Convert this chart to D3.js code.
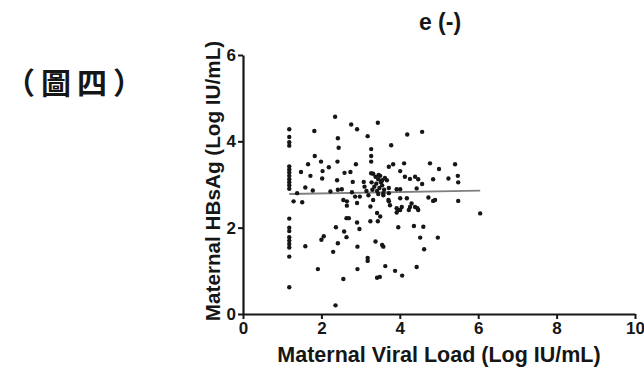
<!DOCTYPE html>
<html><head><meta charset="utf-8">
<script src="https://cdn.jsdelivr.net/npm/d3@7"></script>
<style>body{margin:0;background:#fff}svg{display:block}</style>
</head><body>
<script>
const chartTitle = "e (-)";
const figureLabel = "（圖四）";
const xTitle = "Maternal Viral Load (Log IU/mL)";
const yTitle = "Maternal HBsAg (Log IU/mL)";
const xTicks = [0, 2, 4, 6, 8, 10];
const yTicks = [0, 2, 4, 6];
const xValues = [
1.18,1.18,1.18,1.18,1.18,1.18,1.18,1.18,1.18,1.18,1.18,1.18,
1.18,1.18,1.18,1.18,1.18,1.18,1.18,1.18,1.18,
2.35,1.82,2.76,2.91,3.44,3.18,2.42,2.44,3.27,3.27,3.27,1.83,1.99,1.66,2.19,2.41,2.88,2.03,1.48,1.72,2.59,2.74,2.02,2.40,2.80,3.08,3.27,3.46,3.55,
4.19,4.57,3.78,3.72,3.83,4.11,4.77,5.00,5.41,4.01,4.13,4.26,4.39,4.47,4.85,5.24,5.48,5.49,3.67,
3.92,4.01,4.43,4.73,4.90,5.49,2.52,2.56,2.86,2.98,3.20,3.32,3.58,3.71,4.01,4.18,4.30,4.39,4.05,
1.38,1.59,1.78,2.23,2.42,1.29,1.51,2.65,2.65,2.78,2.91,3.25,3.42,3.50,2.64,2.70,2.91,3.25,3.44,2.37,2.58,2.97,2.64,2.06,2.00,2.42,3.38,1.59,3.55,1.91,2.30,2.56,2.36,2.92,2.92,
3.18,3.18,3.63,3.42,3.49,6.05,3.58,3.88,4.06,4.43,3.96,4.36,4.60,4.52,4.97,4.62,3.92,4.01,4.26,4.45,3.75,4.85,3.72,3.72,3.96,3.92,4.23,4.47,4.57,3.72,
3.32,3.38,3.45,3.52,3.40,3.35,3.48,3.55,3.42,3.60,3.30,3.50,3.62,3.28,3.45,3.58,3.10,3.15
];
const yValues = [
4.28,4.10,3.98,3.90,3.42,3.35,3.28,3.20,3.12,3.05,2.98,2.90,
2.21,2.00,1.92,1.78,1.70,1.62,1.54,1.33,0.62,
4.57,4.24,4.39,4.28,4.43,4.12,4.07,3.85,3.82,3.66,3.53,3.66,3.53,3.47,3.40,3.53,3.47,3.31,3.29,3.20,3.27,3.29,3.14,3.10,3.06,3.06,3.26,3.22,3.10,
4.16,4.22,3.91,3.41,3.47,3.49,3.49,3.36,3.47,3.31,3.18,3.13,3.18,3.12,3.12,3.14,3.20,3.05,3.10,
2.89,2.89,2.91,2.70,2.64,2.62,2.89,2.64,2.72,2.72,2.75,2.64,2.75,2.64,2.68,2.68,2.56,2.48,2.48,
2.80,2.93,2.86,2.84,2.88,2.61,2.59,2.61,2.51,2.82,2.57,2.49,2.34,2.26,2.22,2.22,2.12,2.15,2.15,2.01,1.91,1.97,1.78,1.80,1.72,1.64,1.68,1.57,1.60,1.04,1.44,0.81,0.20,1.56,1.04,
1.30,1.23,1.11,0.84,0.86,2.33,1.56,1.00,0.89,1.09,2.01,2.04,2.02,1.77,1.77,1.50,2.45,2.41,2.48,2.45,2.52,2.62,2.80,2.61,2.41,2.35,2.41,2.41,3.01,2.92,
3.25,3.18,3.12,3.05,3.02,2.95,2.92,2.98,2.85,2.88,2.88,3.20,3.15,3.05,2.78,2.80,2.95,2.85
];
const fitX = [1.18, 6.05];
const fitY = [2.78, 2.86];

const W = 644, H = 370;
const svg = d3.select("body").append("svg").attr("width", W).attr("height", H);
const x = d3.scaleLinear().domain([0, 10]).range([243, 635]);
const y = d3.scaleLinear().domain([0, 6]).range([314, 55]);
const ink = "#161616";
const font = "'Liberation Sans', Arial, sans-serif";

// regression line
svg.append("line")
  .attr("x1", x(fitX[0])).attr("y1", y(fitY[0]))
  .attr("x2", x(fitX[1])).attr("y2", y(fitY[1]))
  .attr("stroke", "#808080").attr("stroke-width", 1.8);

// points
svg.append("g").selectAll("circle").data(d3.range(xValues.length)).join("circle")
  .attr("cx", i => x(xValues[i])).attr("cy", i => y(yValues[i]))
  .attr("r", 2.2).attr("fill", ink);

// axes
const gx = svg.append("g").attr("transform", "translate(0,314)")
  .call(d3.axisBottom(x).tickValues(xTicks).tickFormat(d3.format("d")).tickSize(5).tickSizeOuter(0).tickPadding(3));
const gy = svg.append("g").attr("transform", "translate(243,0)")
  .call(d3.axisLeft(y).tickValues(yTicks).tickFormat(d3.format("d")).tickSize(5).tickSizeOuter(0).tickPadding(2));
[gx, gy].forEach(g => {
  g.select(".domain").attr("stroke", ink).attr("stroke-width", 2.2);
  g.selectAll(".tick line").attr("stroke", ink).attr("stroke-width", 2);
  g.selectAll(".tick text").attr("fill", ink).style("font-family", font)
   .style("font-weight", "bold").style("font-size", "17px");
});

// titles
svg.append("text").attr("x", 440).attr("y", 30).attr("text-anchor", "middle")
  .style("font-family", font).style("font-weight", "bold").style("font-size", "23px")
  .attr("fill", ink).text(chartTitle);
svg.append("text").attr("x", 439).attr("y", 362).attr("text-anchor", "middle")
  .style("font-family", font).style("font-weight", "bold").style("font-size", "21.5px")
  .attr("fill", ink).text(xTitle);
svg.append("text").attr("transform", "translate(220,181) rotate(-90)").attr("text-anchor", "middle")
  .style("font-family", font).style("font-weight", "bold").style("font-size", "20.7px")
  .attr("fill", ink).text(yTitle);
svg.append("text").attr("x", 5).attr("y", 94)
  .style("font-family", "'Noto Sans CJK TC', 'Noto Sans CJK SC', sans-serif").style("font-weight", "bold").style("font-size", "30px")
  .style("letter-spacing", "6px")
  .attr("fill", ink).text(figureLabel);
</script>
</body></html>
